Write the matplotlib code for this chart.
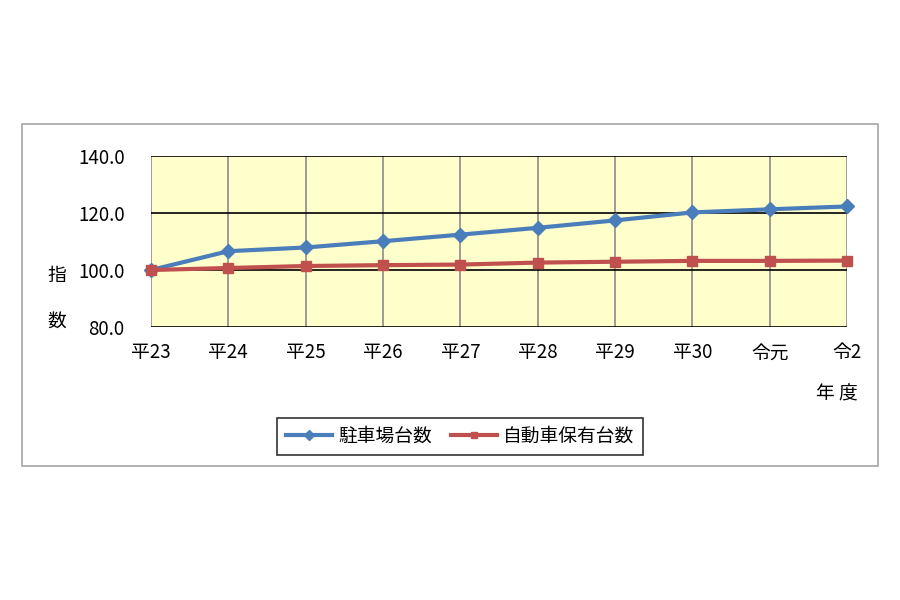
import matplotlib
matplotlib.use("Agg")
import matplotlib.pyplot as plt
from matplotlib.patches import Rectangle

plt.rcParams['font.family'] = ['Noto Sans CJK JP', 'DejaVu Sans']

categories = ["平23", "平24", "平25", "平26", "平27", "平28", "平29", "平30", "令元", "令2"]
parking = [100.0, 106.6, 107.9, 110.1, 112.4, 114.8, 117.4, 120.2, 121.3, 122.3]
vehicles = [100.0, 100.7, 101.4, 101.7, 101.9, 102.6, 102.9, 103.2, 103.2, 103.3]
series_names = ["駐車場台数", "自動車保有台数"]
yticks = [80.0, 100.0, 120.0, 140.0]

FS = 13.5

fig = plt.figure(figsize=(9, 6), dpi=100)
fig.patch.set_facecolor("white")

# outer chart frame
fig.patches.append(Rectangle((22/900, 1-466/600), 856/900, 342/600,
                             transform=fig.transFigure, fill=False,
                             edgecolor="#A6A6A6", linewidth=1.2))

ax = fig.add_axes([151/900, 1-327/600, 696/900, 171/600])
ax.set_facecolor("#FFFFCC")
x = list(range(len(categories)))

for xi in x:
    ax.axvline(xi, color="#8C8C8C", linewidth=1.2, zorder=1)
for yv in yticks:
    ax.axhline(yv, color="black", linewidth=1.2, zorder=1)

ax.plot(x, parking, color="#4A7EBB", linewidth=3, marker="D", markersize=7,
        label=series_names[0], zorder=3, clip_on=False)
ax.plot(x, vehicles, color="#C0504D", linewidth=3, marker="s", markersize=7,
        label=series_names[1], zorder=3, clip_on=False)

ax.set_xlim(0, len(categories) - 1)
ax.set_ylim(80, 140)
ax.set_xticks(x)
ax.set_xticklabels(categories, fontsize=FS)
ax.set_yticks(yticks)
ax.set_yticklabels([f"{v:.1f}" for v in yticks], fontsize=FS)
ax.tick_params(length=0, pad=11)
ax.tick_params(axis="y", pad=19)
for s in ax.spines.values():
    s.set_visible(False)

fig.text(57/900, 1-275/600, "指", fontsize=FS, ha="center", va="center")
fig.text(57/900, 1-321/600, "数", fontsize=FS, ha="center", va="center")
fig.text(837/900, 1-394/600, "年 度", fontsize=FS, ha="center", va="center")

leg = fig.legend(loc="center", bbox_to_anchor=(460/900, 1-436.5/600), ncol=2,
                 fontsize=FS, frameon=True, fancybox=False, edgecolor="black",
                 markerscale=0.7, handlelength=2.5, columnspacing=1.0,
                 handletextpad=0.3, borderpad=0.45)
leg.get_frame().set_linewidth(1.2)

fig.savefig("out.png", dpi=100, facecolor="white")
